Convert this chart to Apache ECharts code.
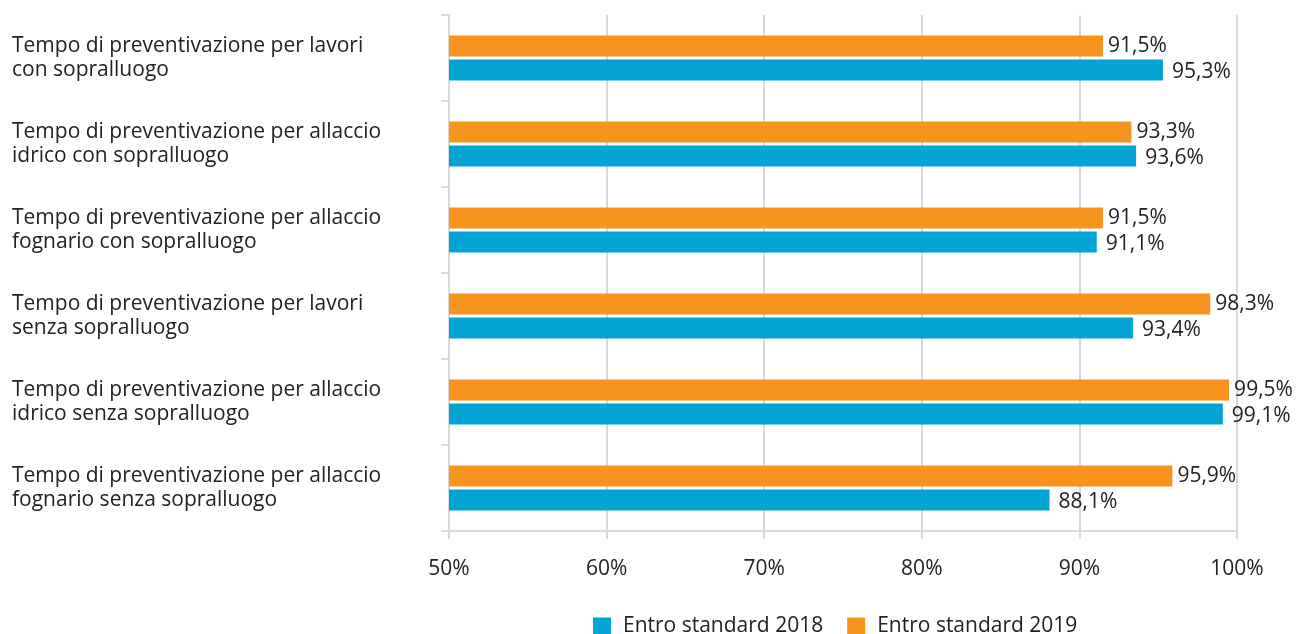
<!DOCTYPE html>
<html><head><meta charset="utf-8">
<script src="https://cdn.jsdelivr.net/npm/echarts@6/dist/echarts.min.js"></script>
<style>html,body{margin:0;padding:0;background:#fff}#c{width:1304px;height:634px}</style>
</head><body><div id="c"></div>
<script>
const categories = [
  "Tempo di preventivazione per lavori\ncon sopralluogo",
  "Tempo di preventivazione per allaccio\nidrico con sopralluogo",
  "Tempo di preventivazione per allaccio\nfognario con sopralluogo",
  "Tempo di preventivazione per lavori\nsenza sopralluogo",
  "Tempo di preventivazione per allaccio\nidrico senza sopralluogo",
  "Tempo di preventivazione per allaccio\nfognario senza sopralluogo"
];
const values2018 = [95.3, 93.6, 91.1, 93.4, 99.1, 88.1];
const values2019 = [91.5, 93.3, 91.5, 98.3, 99.5, 95.9];
const seriesNames = ["Entro standard 2018", "Entro standard 2019"];
const fmt = v => String(v.toFixed(1)).replace('.', ',') + '%';
const FONT = 'Open Sans';
const FS = 21;
const chart = echarts.init(document.getElementById('c'));
chart.setOption({
  animation: false,
  grid: {left: 449, right: 67, top: 15, bottom: 103},
  legend: {
    data: seriesNames, top: 611, left: 588, itemWidth: 18, itemHeight: 18, itemGap: 24,
    icon: 'rect', textStyle: {fontFamily: FONT, fontSize: FS, color: '#222', padding: [0, 0, 0, 7]}
  },
  xAxis: {
    type: 'value', min: 50, max: 100, interval: 10,
    axisLabel: {formatter: v => v + '%', fontFamily: FONT, fontSize: FS, color: '#222', margin: 28},
    axisLine: {show: true, lineStyle: {color: '#d9d9d9', width: 2}},
    axisTick: {show: true, length: 8, lineStyle: {color: '#d9d9d9', width: 2}},
    splitLine: {show: true, lineStyle: {color: '#d9d9d9', width: 2}}
  },
  yAxis: {
    type: 'category', data: categories, inverse: true,
    axisLine: {show: true, lineStyle: {color: '#d9d9d9', width: 2}},
    axisTick: {show: true, length: 8, lineStyle: {color: '#d9d9d9', width: 2}},
    axisLabel: {align: 'left', margin: 437, fontFamily: FONT, fontSize: FS, color: '#222', lineHeight: 24, padding: [4, 0, 0, 0]}
  },
  series: [
    {name: seriesNames[1], type: 'bar', data: values2019, barWidth: 21, barGap: '15%',
     itemStyle: {color: '#F7941D'},
     label: {show: true, position: 'right', distance: 5, formatter: p => fmt(p.value), fontFamily: FONT, fontSize: FS, color: '#222'}},
    {name: seriesNames[0], type: 'bar', data: values2018, barWidth: 21, barGap: '15%',
     itemStyle: {color: '#02A4D3'},
     label: {show: true, position: 'right', distance: 9, offset: [0, 2], formatter: p => fmt(p.value), fontFamily: FONT, fontSize: FS, color: '#222'}}
  ]
});
</script></body></html>
